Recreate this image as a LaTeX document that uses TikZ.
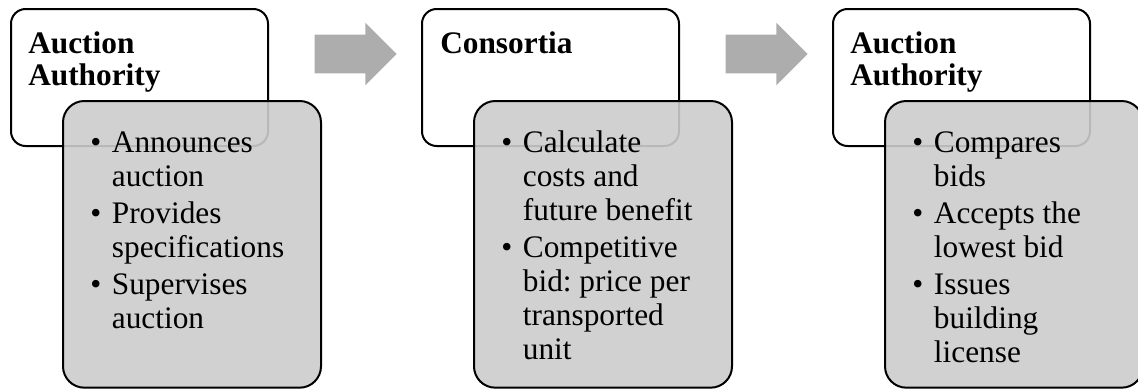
\documentclass[tikz,border=0pt]{standalone}
\usepackage{fontspec}
\setmainfont{Liberation Serif}
\usetikzlibrary{positioning,shapes.arrows}
\definecolor{boxgray}{HTML}{CCCCCC}
\definecolor{flowgray}{HTML}{ADADAD}

\begin{document}
\begin{tikzpicture}[
  x=0.75pt, y=-0.75pt,
  headbox/.style={
    draw, line width=1.5pt, rounded corners=11pt, fill=white,
    minimum width=192.75pt, minimum height=102.75pt, anchor=north west
  },
  taskbox/.style={
    draw, line width=1.5pt, rounded corners=16pt,
    fill=boxgray, fill opacity=0.9,
    minimum width=193.5pt, minimum height=215pt, anchor=north west
  },
  hdtext/.style={
    font=\fontsize{23.5}{24}\selectfont\bfseries, anchor=base west, inner sep=0pt
  },
  listtext/.style={
    font=\fontsize{23.5}{25.5}\selectfont, anchor=base west, inner sep=0pt
  },
  flow/.style={
    single arrow, fill=flowgray, inner xsep=0pt, inner ysep=14.25pt,
    minimum height=61.5pt, minimum width=46.5pt, single arrow head extend=9pt
  }
]
\useasboundingbox (0,0) rectangle (1138,390);

% Boxes
\node[headbox] (hdA) at (10,8) {};
\node[taskbox] (tkA) at (62,100) {};
\node[headbox] (hdB) at (421,8) {};
\node[taskbox] (tkB) at (473,100) {};
\node[headbox] (hdC) at (832,8) {};
\node[taskbox] (tkC) at (884,100) {};

% Flow arrows
\node[flow] (flAB) at (346,54) {};
\node[flow] (flBC) at (757,54) {};

% Titles
\node[hdtext] (ttA) at (28,53) {\begin{tabular}[t]{@{}l@{}}Auction\\Authority\end{tabular}};
\node[hdtext] (ttB) at (440,53) {Consortia};
\node[hdtext] (ttC) at (850,53) {\begin{tabular}[t]{@{}l@{}}Auction\\Authority\end{tabular}};

% Tasks
\node[listtext] (lsA) at (90,152) {\begin{tabular}[t]{@{}l@{\hspace{8pt}}l@{}}
\textbullet & Announces\\ & auction\\[2.25pt]
\textbullet & Provides\\ & specifications\\[2.25pt]
\textbullet & Supervises\\ & auction
\end{tabular}};
\node[listtext] (lsB) at (501,152) {\begin{tabular}[t]{@{}l@{\hspace{8pt}}l@{}}
\textbullet & Calculate\\ & costs and\\ & future benefit\\[2.25pt]
\textbullet & Competitive\\ & bid:\ price per\\ & transported\\ & unit
\end{tabular}};
\node[listtext] (lsC) at (912,152) {\begin{tabular}[t]{@{}l@{\hspace{8pt}}l@{}}
\textbullet & Compares\\ & bids\\[2.25pt]
\textbullet & Accepts the\\ & lowest bid\\[2.25pt]
\textbullet & Issues\\ & building\\ & license
\end{tabular}};
\end{tikzpicture}
\end{document}
